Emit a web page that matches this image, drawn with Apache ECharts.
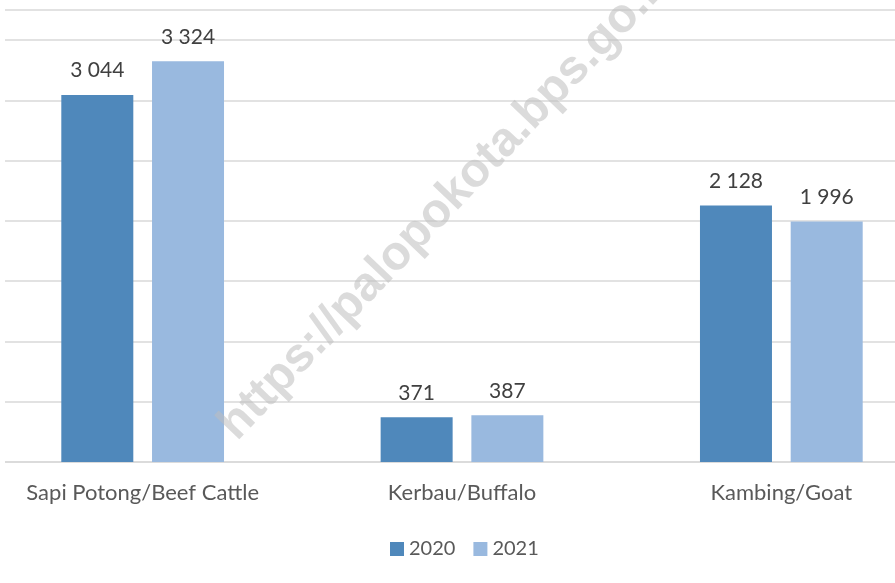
<!DOCTYPE html>
<html>
<head>
<meta charset="utf-8">
<script src="https://cdn.jsdelivr.net/npm/echarts@6/dist/echarts.min.js"></script>
<style>
  html, body { margin: 0; padding: 0; background: #fff; overflow: hidden; }
  body { width: 895px; height: 583px; position: relative; }
  /* the plot is wider than the picture: it is cut on both sides */
  #chart { position: absolute; left: -17px; top: 0; width: 958px; height: 583px; }
</style>
</head>
<body>
<div id="chart"></div>
<script>
// data
var categories = ['Sapi Potong/Beef Cattle', 'Kerbau/Buffalo', 'Kambing/Goat']
var years = ['2020', '2021']
var values2020 = [3044, 371, 2128]
var values2021 = [3324, 387, 1996]

var colors = ['#4f88bb', '#99b9df']

function fmt(v) {
  // thousands separated by a space
  return String(v).replace(/\B(?=(\d{3})+(?!\d))/g, ' ')
}

var mychart = echarts.init(document.getElementById('chart'))
var labelStyle = {
  show: true,
  position: 'top',
  distance: 14,
  color: '#404040',
  fontSize: 21,
  fontFamily: 'Lato',
  formatter: function (p) { return fmt(p.value) }
}
var option = {
  animation: false,
  textStyle: { fontFamily: 'Lato' },
  grid: { left: 0, right: 0, top: 10, bottom: 121 },
  legend: {
    data: years,
    top: 534,
    left: 402,
    itemWidth: 14,
    itemHeight: 14,
    itemGap: 18,
    icon: 'rect',
    textStyle: { color: '#595959', fontSize: 20, fontFamily: 'Lato' }
  },
  xAxis: {
    type: 'category',
    data: categories,
    axisTick: { show: false },
    axisLine: { show: true, lineStyle: { color: '#d9d9d9', width: 1.5 } },
    axisLabel: { color: '#595959', fontSize: 22, margin: 20, fontFamily: 'Lato' }
  },
  yAxis: {
    type: 'value',
    min: 0,
    max: 3750,
    interval: 500,
    axisLabel: { show: false },
    axisLine: { show: false },
    axisTick: { show: false },
    splitLine: { lineStyle: { color: '#d9d9d9', width: 1.5 } }
  },
  graphic: [
    {
      // gridlines start a little in from the left edge
      type: 'rect',
      shape: { x: 0, y: 0, width: 22, height: 470 },
      style: { fill: '#fff' },
      z: 5
    },
    {
      type: 'text',
      x: 466,
      y: 200,
      rotation: 0.81,
      style: {
        text: 'https://palopokota.bps.go.id',
        fill: 'rgba(190,190,190,0.55)',
        font: 'bold 48px "Liberation Sans"',
        align: 'center',
        verticalAlign: 'middle'
      },
      z: 10
    }
  ],
  series: [
    {
      name: years[0],
      type: 'bar',
      barWidth: 72,
      barGap: '26%',
      itemStyle: { color: colors[0] },
      label: labelStyle,
      data: values2020
    },
    {
      name: years[1],
      type: 'bar',
      barWidth: 72,
      itemStyle: { color: colors[1] },
      label: labelStyle,
      data: values2021
    }
  ]
}
mychart.setOption(option)
</script>
</body>
</html>
